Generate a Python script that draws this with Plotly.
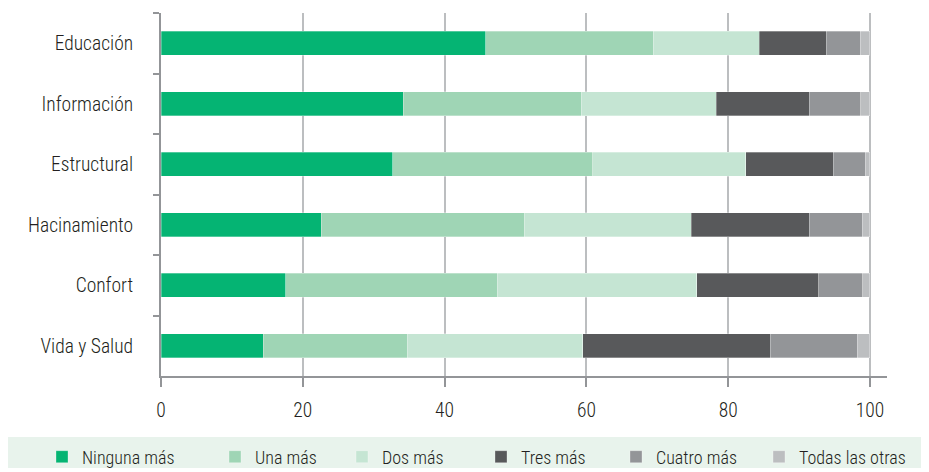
import plotly.graph_objects as go

categories = ["Educación", "Información", "Estructural", "Hacinamiento", "Confort", "Vida y Salud"]
series_names = ["Ninguna más", "Una más", "Dos más", "Tres más", "Cuatro más", "Todas las otras"]
ninguna = [45.8, 34.2, 32.7, 22.6, 17.6, 14.4]
una = [23.6, 25.1, 28.2, 28.6, 29.8, 20.3]
dos = [15.0, 19.0, 21.6, 23.6, 28.2, 24.8]
tres = [9.4, 13.1, 12.3, 16.6, 17.2, 26.4]
cuatro = [4.8, 7.3, 4.5, 7.5, 6.2, 12.3]
todas = [1.4, 1.3, 0.7, 1.1, 1.0, 1.8]
x_ticks = [0, 20, 40, 60, 80, 100]

colors = ["#05b473", "#9fd5b5", "#c5e5d3", "#58595b", "#939598", "#bcbec0"]
FONT = "Roboto Condensed, Liberation Sans Narrow, DejaVu Sans Condensed, Roboto, sans-serif"

# page has an 8px body margin; figure coordinates = page coordinates - 8
OFF = 8
W, H = 929 - OFF, 472 - OFF
L = 161 - OFF
T = 13 - OFF
PR = 887 - OFF   # plot right edge
PB = 376 - OFF   # plot bottom edge
R, B = W - PR, H - PB
PW, PH = PR - L, PB - T

legend_x = [57, 230, 357, 496, 631, 774]  # page x of legend markers
LEG_PAD = 15

fig = go.Figure()
layout_legends = {}
for i, (name, vals, col) in enumerate(zip(series_names, [ninguna, una, dos, tres, cuatro, todas], colors)):
    lg = "legend" if i == 0 else f"legend{i+1}"
    fig.add_trace(go.Bar(
        y=categories, x=vals, name=name, orientation="h",
        marker=dict(color=col, line=dict(color="rgba(255,255,255,0.6)", width=0.5)),
        width=0.4, legend=lg,
    ))
    layout_legends[lg] = dict(
        orientation="h", x=(legend_x[i] - OFF - LEG_PAD - L) / PW, xanchor="left",
        y=(PB - (457 - OFF)) / PH, yanchor="middle",
        bgcolor="rgba(0,0,0,0)", font=dict(size=18, weight=300), itemclick=False,
        borderwidth=0,
    )

fig.add_shape(type="rect", xref="paper", yref="paper",
              x0=(8 - OFF - L) / PW, x1=(921 - OFF - L) / PW,
              y0=(PB - (468 - OFF)) / PH, y1=(PB - (437 - OFF)) / PH,
              fillcolor="#e8f3ec", line=dict(width=0), layer="below")

fig.update_layout(
    barmode="stack",
    width=W, height=H,
    margin=dict(l=L, r=R, t=T, b=B, autoexpand=False),
    plot_bgcolor="white", paper_bgcolor="white",
    font=dict(family=FONT, size=19.5, color="#231f20", weight=300),
    showlegend=True,
    xaxis=dict(range=[0, 102.4], tickvals=x_ticks, showgrid=True, gridcolor="#bcbec0", gridwidth=1.5,
               zeroline=False, showline=True, linecolor="#939598", linewidth=2,
               ticks="outside", ticklen=9, tickcolor="#939598", tickwidth=1.5,
               ticklabelstandoff=7, tickfont=dict(size=19.5, weight=300), automargin=False),
    yaxis=dict(categoryorder="array", categoryarray=categories, autorange="reversed",
               showline=True, linecolor="#939598", linewidth=2, showgrid=False,
               ticks="outside", ticklen=6, tickcolor="#939598", tickwidth=1.5,
               tickson="boundaries", ticklabelstandoff=22, tickfont=dict(size=19.5, weight=300), automargin=False),
    **layout_legends,
)

fig.write_html("out.html")
